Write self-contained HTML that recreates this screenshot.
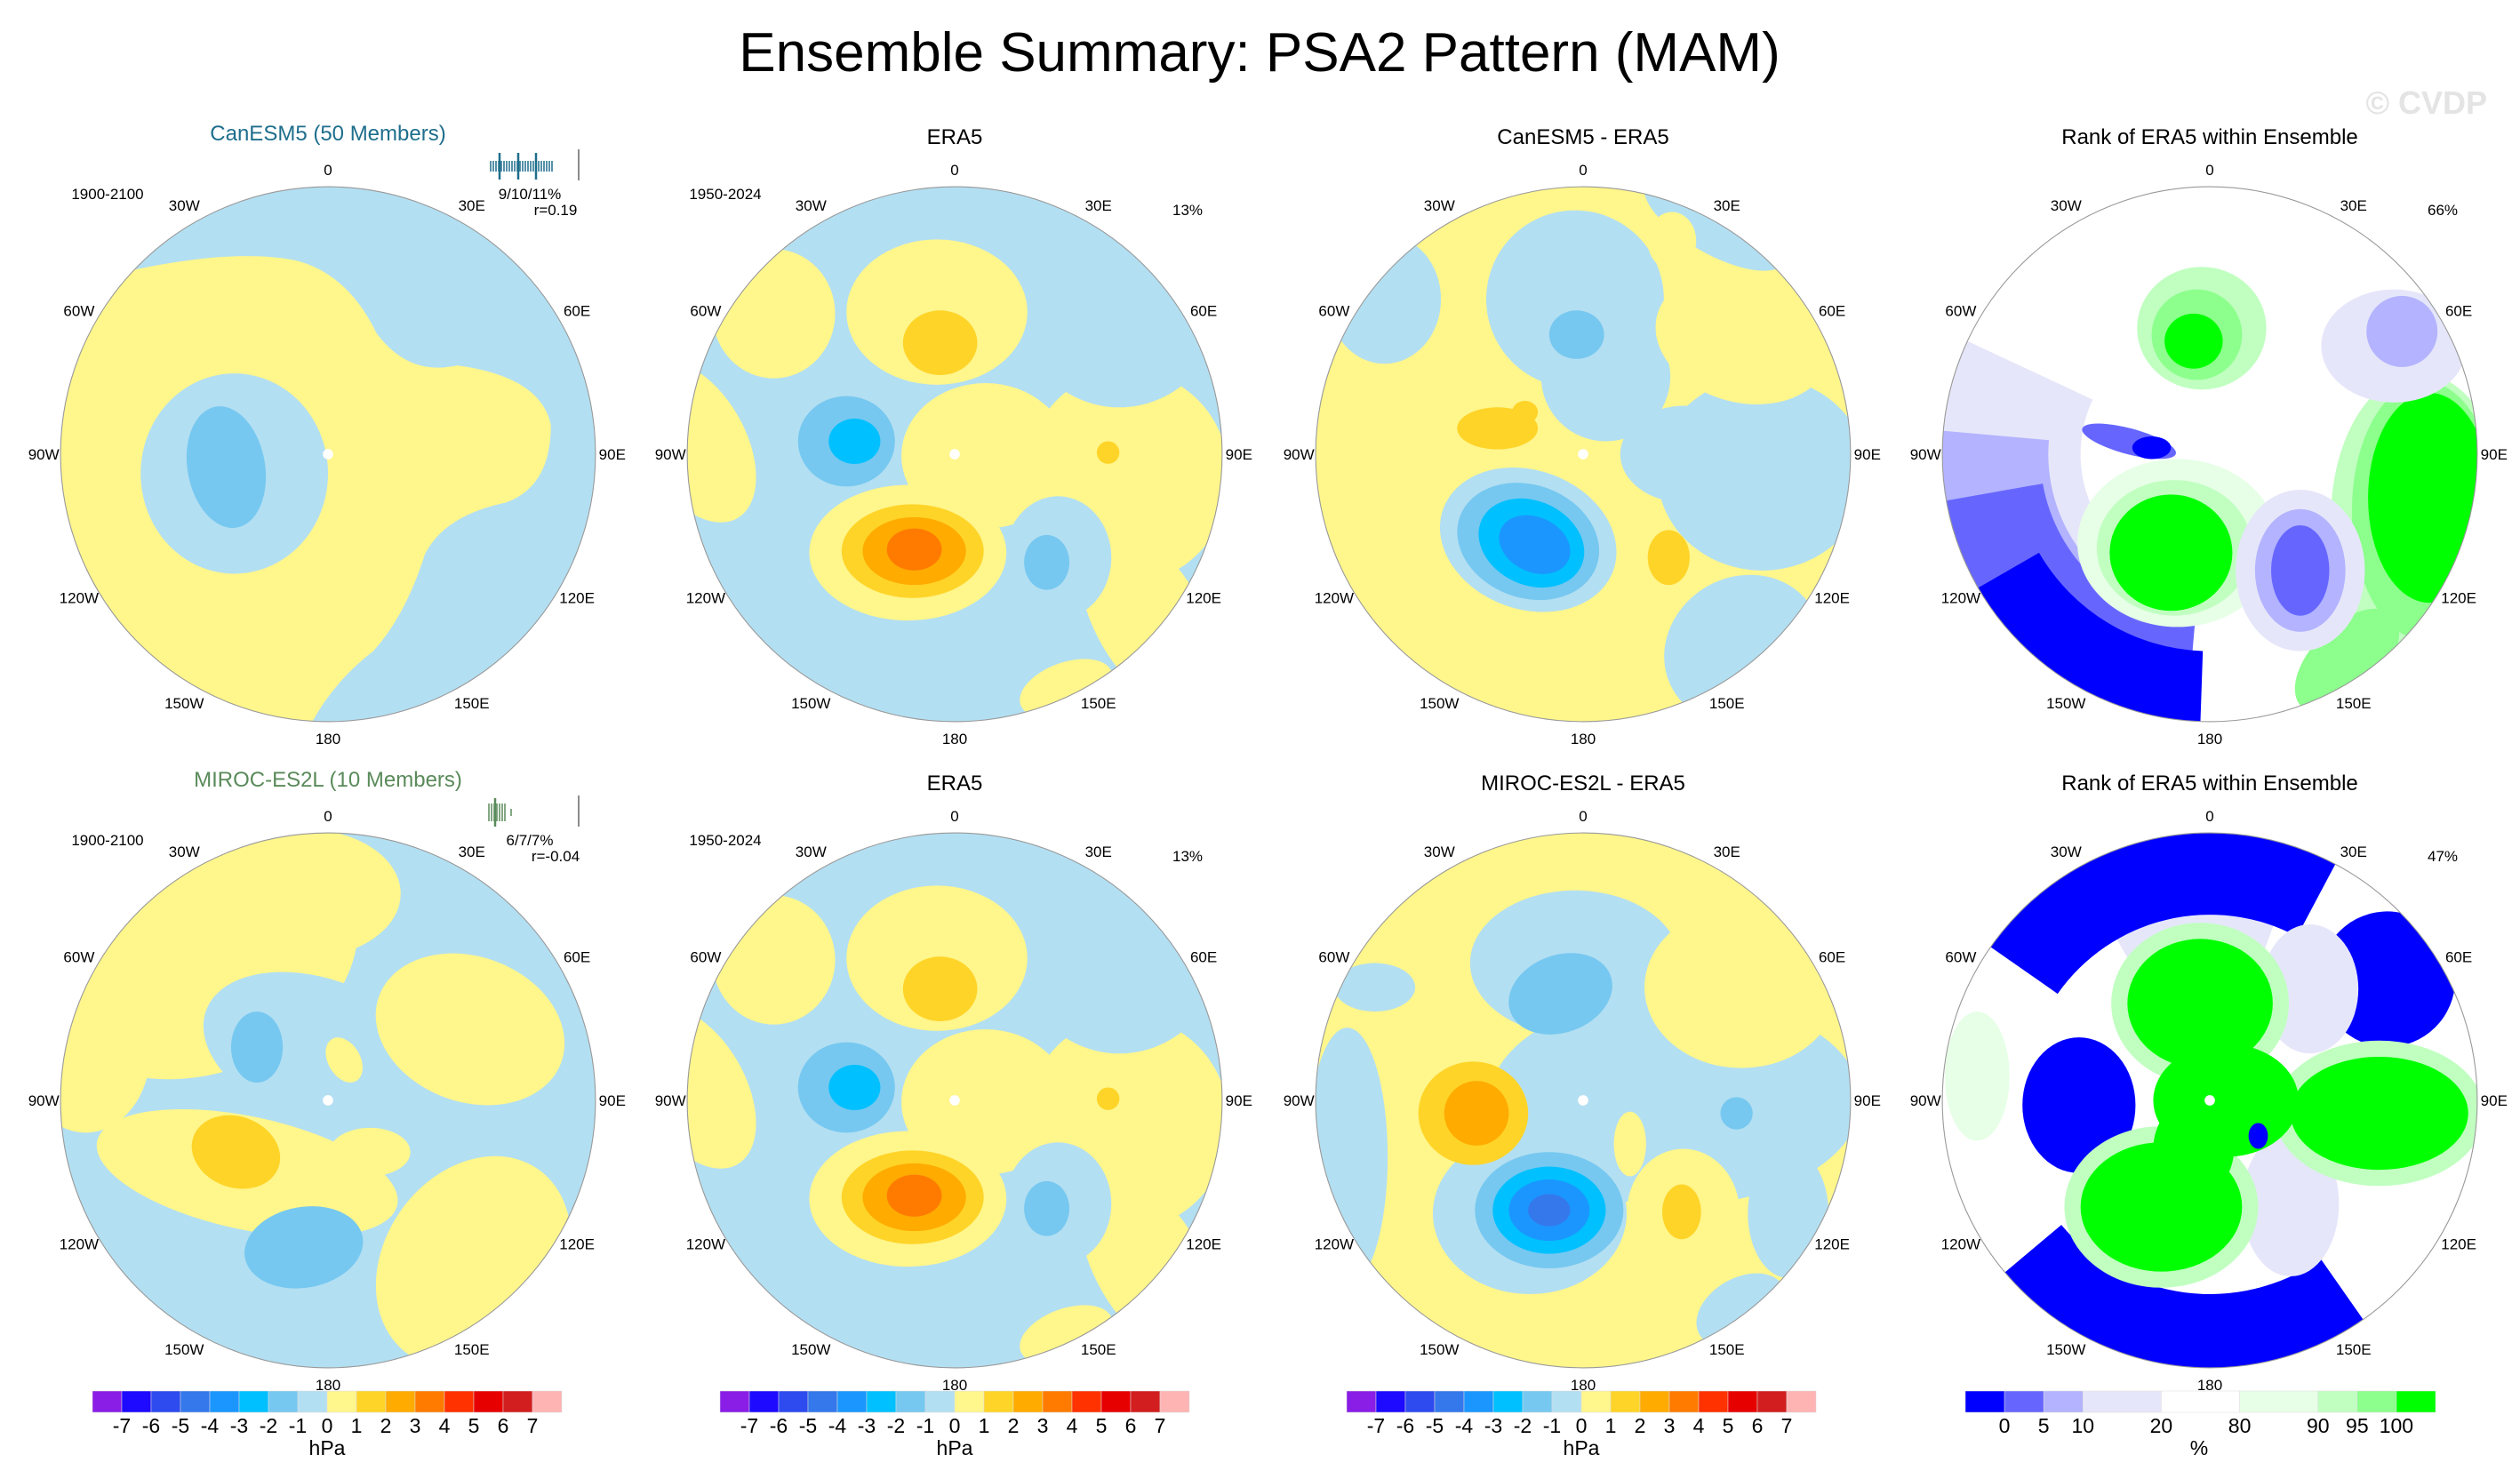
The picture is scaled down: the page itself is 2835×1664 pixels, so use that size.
<!DOCTYPE html>
<html><head><meta charset="utf-8">
<style>
html,body{margin:0;padding:0;background:#fff;}
svg{display:block;font-family:"Liberation Sans",sans-serif;}
</style></head>
<body>
<svg id="fig" width="2835" height="1664" viewBox="0 0 2835 1664" xmlns="http://www.w3.org/2000/svg">
<rect width="2835" height="1664" fill="#fff"/>
<text x="1417" y="80" font-size="62" text-anchor="middle" fill="#000">Ensemble Summary: PSA2 Pattern (MAM)</text>
<text x="2798" y="128" font-size="36" font-weight="bold" text-anchor="end" fill="#e4e4e4">© CVDP</text>
<g id="maps"></g>
<g id="bars"></g>
</svg>
<script>
// ---- colour bar data ----
const hpaLevels = [-7,-6,-5,-4,-3,-2,-1,0,1,2,3,4,5,6,7];
const hpaColors = ["#8a1ee6","#1e0aff","#2d4bee","#3578ec","#1b96ff","#00c0ff","#76c8f0","#b3dff2","#fff68c","#ffd428","#ffab00","#ff7b00","#ff3200","#e60000","#d21e1e","#ffb4b4"];
const rankLevels = [0,5,10,20,80,90,95,100];
const rankWidths = [1,1,1,2,2,2,1,1,1];
const rankColors = ["#0000ff","#6666ff","#b3b3ff","#e6e6fa","#ffffff","#e6ffe6","#c0ffc0","#8cff8c","#00ff00"];
const lonLabels = ["0","30E","60E","90E","120E","150E","180","150W","120W","90W","60W","30W"];

const NS="http://www.w3.org/2000/svg";
const LB="#b3dff2",B2="#76c8f0",B3="#00c0ff",B4="#1b96ff",B5="#3578ec",Y="#fff68c",G1="#ffd428",G2="#ffab00",G3="#ff7b00";
const K1="#0000ff",K2="#6666ff",K3="#b3b3ff",K4="#e6e6fa",N1="#e6ffe6",N2="#c0ffc0",N3="#8cff8c",N4="#00ff00";
const S=1.817;
function el(t,a,p){const e=document.createElementNS(NS,t);for(const k in a)e.setAttribute(k,a[k]);(p||document.getElementById('maps')).appendChild(e);return e;}
function txt(s,x,y,size,anchor,fill,p){const e=el('text',{x:x,y:y,'font-size':size,'text-anchor':anchor||'middle',fill:fill||'#000'},p);e.textContent=s;return e;}

const maps=[
 {cx:369,cy:511,base:Y,shapes:[
  ['path',LB,"M-170,-105 L-130,-112 Q-60,-128 -20,-120 Q12,-112 30,-75 Q50,-48 80,-55 Q132,-48 138,-18 Q138,20 110,30 Q72,38 60,62 Q48,100 28,122 Q2,142 -12,170 L170,170 L170,-170 L-170,-170 Z"],
  [LB,-58,12,58,62,0],[B2,-63,8,24,38,-10]]},
 {cx:1074,cy:511,base:LB,shapes:[
  [Y,19,1,52,45,0],[Y,107,14,63,66,0],[LB,102,-100,66,71,0],
  [Y,-11,-88,56,45,0],[G1,-9,-69,23,20,0],
  [Y,-112,-87,38,40,0],[Y,-162,-8,32,55,-30],
  [Y,120,102,33,63,-30],[Y,69,145,30,16,-20],
  [LB,64,64,33,38,0],[B2,57,67,14,17,0],
  [B2,-67,-8,30,28,0],[B3,-62,-8,16,14,0],
  [Y,-29,61,61,42,0],[G1,-26,60,44,29,0],[G2,-25,60,32,21,0],[G3,-25,59,17,13,0],[G1,95,-1,7,7,0]]},
 {cx:1781,cy:511,base:Y,shapes:[
  [LB,-5,-96,55,55,0],[LB,14,-48,40,40,0],[LB,111,12,65,60,0],[LB,63,0,40,30,0],[LB,99,121,50,45,-30],
  [Y,99,-72,55,40,15],[LB,82,-144,50,20,30],[Y,55,-132,15,18,0],[LB,-123,-96,35,40,0],
  [B2,-4,-74,17,15,0],[G1,-53,-16,25,13,0],[G1,-36,-26,8,7,0],
  [LB,-34,53,56,43,20],[B2,-34,54,45,35,20],[B3,-32,55,34,26,25],[B4,-30,56,23,17,25],[G1,53,64,13,17,0]]},
 {cx:2486,cy:511,base:"#fff",shapes:[
  ['arc',K4,80,166,95,205],['arc',K3,100,166,100,185],['arc',K2,105,166,95,170],['arc',K1,122,166,92,150],
  [N1,-20,55,62,52,0],[N2,-22,58,48,42,0],[N4,-24,61,38,36,0],
  [N2,130,40,55,90,0],[N3,133,35,45,80,0],[N4,136,27,38,65,0],[N3,85,128,40,22,-45],
  [N2,-5,-78,40,38,0],[N3,-8,-74,28,28,0],[N4,-10,-70,18,17,0],
  [K4,114,-67,45,35,0],[K3,119,-76,22,22,0],
  [K4,56,72,40,50,0],[K3,56,72,28,38,0],[K2,56,72,18,28,0],
  [K2,-50,-8,30,8,15],[K1,-36,-4,12,7,0]]},
 {cx:369,cy:1238,base:LB,shapes:[
  [Y,-85,-95,105,80,-15],[Y,-15,-128,60,40,0],[Y,-150,-30,40,50,0],[LB,-5,-30,75,45,20],
  [Y,-50,45,95,35,12],[Y,26,32,25,15,0],[Y,10,-25,10,15,-30],
  [Y,88,-44,60,45,20],[Y,90,100,55,70,35],
  [G1,-57,32,28,22,20],[B2,-44,-33,16,22,0],[B2,-15,91,37,25,-10]]},
 {cx:1074,cy:1238,base:LB,shapes:[
  [Y,19,1,52,45,0],[Y,107,14,63,66,0],[LB,102,-100,66,71,0],
  [Y,-11,-88,56,45,0],[G1,-9,-69,23,20,0],
  [Y,-112,-87,38,40,0],[Y,-162,-8,32,55,-30],
  [Y,120,102,33,63,-30],[Y,69,145,30,16,-20],
  [LB,64,64,33,38,0],[B2,57,67,14,17,0],
  [B2,-67,-8,30,28,0],[B3,-62,-8,16,14,0],
  [Y,-29,61,61,42,0],[G1,-26,60,44,29,0],[G2,-25,60,32,21,0],[G3,-25,59,17,13,0],[G1,95,-1,7,7,0]]},
 {cx:1781,cy:1238,base:Y,shapes:[
  [LB,57,0,115,65,0],[LB,-5,-85,65,45,0],[LB,-146,35,25,80,0],[LB,-129,-70,25,15,0],
  [Y,98,-70,60,50,0],[LB,-33,70,60,50,0],[Y,62,70,35,40,0],[Y,29,27,10,20,0],
  [LB,127,70,25,40,0],[LB,98,130,30,20,-30],
  [B2,-14,-66,33,24,-20],[G1,-68,8,34,32,0],[G2,-66,8,20,20,0],
  [B2,-21,68,46,36,0],[B3,-21,68,35,27,0],[B4,-21,68,25,19,0],[B5,-21,68,13,10,0],
  [G1,61,69,12,17,0],[B2,95,8,10,10,0]]},
 {cx:2486,cy:1238,base:"#fff",shapes:[
  ['arc',K4,100,118,-120,-70],['arc',K1,115,170,-145,-62],['arc',K1,120,170,55,140],
  [K1,110,-75,42,42,40],[K1,-81,3,35,42,0],
  [K4,62,-69,30,40,0],[K4,50,64,30,45,0],[N1,-144,-15,20,40,0],
  [N2,-6,-60,55,50,0],[N4,-6,-60,45,40,0],
  [N2,-30,66,60,50,0],[N4,-30,66,50,40,0],
  [N2,105,8,65,45,0],[N4,105,8,55,35,0],[N4,10,0,45,35,0],[N4,-10,30,25,30,0],[K1,30,22,6,8,0]]}
];
const titles=[
 ["CanESM5 (50 Members)","#1e6e8c"],["ERA5","#000"],["CanESM5 - ERA5","#000"],["Rank of ERA5 within Ensemble","#000"],
 ["MIROC-ES2L (10 Members)","#5a8a5a"],["ERA5","#000"],["MIROC-ES2L - ERA5","#000"],["Rank of ERA5 within Ensemble","#000"]];
const pctText=[null,"13%",null,"66%",null,"13%",null,"47%"];

maps.forEach((m,i)=>{
  const g=el('g',{});
  
  
  const cid='clip'+i;
  const cp=el('clipPath',{id:cid},g);
  el('circle',{cx:0,cy:0,r:165.6},cp);
  const inner=el('g',{transform:`translate(${m.cx},${m.cy}) scale(${S})`},g);
  const fill=el('g',{'clip-path':`url(#${cid})`},inner);
  el('rect',{x:-170,y:-170,width:340,height:340,fill:m.base},fill);
  m.shapes.forEach(s=>{
    let e;
    if(s[0]==='path'){e=el('path',{d:s[2],fill:s[1]},fill);}
    else if(s[0]==='arc'){
      const [_,c,r1,r2,a1,a2]=s;const R=Math.PI/180;
      const p=(r,a)=>`${(r*Math.cos(a*R)).toFixed(1)},${(r*Math.sin(a*R)).toFixed(1)}`;
      const lg=(a2-a1)>180?1:0;
      e=el('path',{d:`M${p(r2,a1)} A${r2},${r2} 0 ${lg} 1 ${p(r2,a2)} L${p(r1,a2)} A${r1},${r1} 0 ${lg} 0 ${p(r1,a1)} Z`,fill:c},fill);
    } else {e=el('ellipse',{cx:s[1],cy:s[2],rx:s[3],ry:s[4],fill:s[0],transform:`rotate(${s[5]} ${s[1]} ${s[2]})`},fill);}
    
    
  });
  el('circle',{cx:0,cy:0,r:3.2,fill:'#fff'},inner);
  const ring=el('circle',{cx:0,cy:0,r:165.6,fill:'none',stroke:'#999','stroke-width':0.6},inner);
  
  
  lonLabels.forEach((l,k)=>{
    const a=k*30*Math.PI/180, R=(k%3===0)?176:178;
    const t=txt(l,m.cx+Math.sin(a)*R*S,m.cy-Math.cos(a)*R*S+6,17,'middle','#000',g);
    
    
  });
  const row=i<4?0:1;
  const tt=txt(titles[i][0],m.cx,(row?887:160)+ (i%4===0?-2:2),24,'middle',titles[i][1],g);
  
  
  const ty=row?951:224;
  if(i%4===0){
    const a=txt("1900-2100",m.cx-248,ty,17,'middle','#000',g);
    
    const b=txt(i===0?"9/10/11%":"6/7/7%",m.cx+227,ty,17,'middle','#000',g);
    
    const c=txt(i===0?"r=0.19":"r=-0.04",m.cx+256,ty+18,17,'middle','#000',g);
    
    const col=titles[i][1], by=ty-37;
    const tk=el('g',{stroke:col},g);
    
    
    if(i===0){for(let x=552;x<=622;x+=3)el('line',{x1:m.cx-369+x,y1:by-6,x2:m.cx-369+x,y2:by+6,'stroke-width':1.5},tk);
      [562,583,603].forEach(x=>el('line',{x1:m.cx-369+x,y1:by-15,x2:m.cx-369+x,y2:by+15,'stroke-width':2.5},tk));}
    else{for(let x=550;x<=568;x+=3)el('line',{x1:x,y1:by-10,x2:x,y2:by+10,'stroke-width':1.5},tk);
      el('line',{x1:557,y1:by-16,x2:557,y2:by+16,'stroke-width':2.5},tk);el('line',{x1:575,y1:by-4,x2:575,y2:by+4,'stroke-width':1.5},tk);}
    el('line',{x1:m.cx+282,y1:by-19,x2:m.cx+282,y2:by+16,stroke:'#666','stroke-width':1.5},g);
  }
  if(i%4===1){const a=txt("1950-2024",m.cx-258,ty,17,'middle','#000',g);}
  if(pctText[i]){const a=txt(pctText[i],m.cx+262,ty+18,17,'middle','#000',g);}
});

// ---- colour bars ----
const bars=document.getElementById('bars');
[104,810,1515].forEach((x0,bi)=>{
  const g=el('g',{},bars);
  
  
  const w=528/hpaColors.length;
  hpaColors.forEach((c,k)=>{const r=el('rect',{x:x0+k*w,y:1565,width:w,height:24,fill:c,stroke:'#ddd','stroke-width':0.5},g);
    });
  hpaLevels.forEach((v,k)=>{const t=txt(String(v),x0+(k+1)*w,1612,23,'middle','#000',g);
    });
  const u=txt('hPa',x0+264,1637,23,'middle','#000',g);
});
{
  const g=el('g',{},bars);
  
  
  const x0=2211,W=529,tot=rankWidths.reduce((a,b)=>a+b,0);let x=x0;
  rankColors.forEach((c,k)=>{const w=W*rankWidths[k]/tot;const r=el('rect',{x:x,y:1565,width:w,height:24,fill:c,stroke:'#ddd','stroke-width':0.5},g);
    
    x+=w;
    if(k<rankLevels.length){const t=txt(String(rankLevels[k]),x,1612,23,'middle','#000',g);}
  });
  const u=txt('%',2474,1637,23,'middle','#000',g);
}
</script>
</body></html>
